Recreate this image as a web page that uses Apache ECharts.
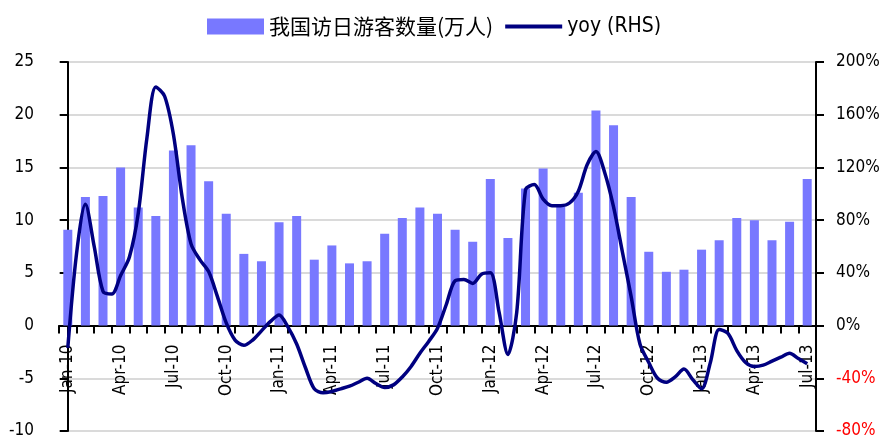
<!DOCTYPE html>
<html><head><meta charset="utf-8">
<script src="https://cdn.jsdelivr.net/npm/echarts@6/dist/echarts.min.js"></script>
<style>html,body{margin:0;padding:0;background:#fff}#c{width:885px;height:439px}</style>
</head><body><div id="c"></div>
<script>
var months = ['Jan-10','Feb-10','Mar-10','Apr-10','May-10','Jun-10','Jul-10','Aug-10','Sep-10','Oct-10','Nov-10','Dec-10',
  'Jan-11','Feb-11','Mar-11','Apr-11','May-11','Jun-11','Jul-11','Aug-11','Sep-11','Oct-11','Nov-11','Dec-11',
  'Jan-12','Feb-12','Mar-12','Apr-12','May-12','Jun-12','Jul-12','Aug-12','Sep-12','Oct-12','Nov-12','Dec-12',
  'Jan-13','Feb-13','Mar-13','Apr-13','May-13','Jun-13','Jul-13'];
var visitors = [9.1,12.2,12.3,15.0,11.2,10.4,16.6,17.1,13.7,10.6,6.8,6.1,
  9.8,10.4,6.25,7.6,5.9,6.1,8.7,10.2,11.2,10.6,9.1,7.95,
  13.9,8.3,13.0,14.9,11.3,12.6,20.4,19.0,12.2,7.0,5.1,5.3,
  7.2,8.1,10.2,10.0,8.1,9.85,13.9];
// yoy (%) read at half-month steps, starting Jan-10
var yoyHalfMonth = [-17,55,92,60,26,24,38,52,85,143,181,174,145,97,62,50,41,22,2,-11,-15,-11,-4,3,8,-1,-14,-32,-48,-51,
  -50,-48,-46,-43,-40,-44,-47,-45,-39,-31,-21,-12,-2,16,34,35,32,39,40,10,-22,10,103,107,96,91,91,93,102,122,
  132,116,90,56,22,-14,-28,-40,-43,-39,-33,-41,-48,-28,-3,-6,-19,-28,-31,-30,-27,-24,-21,-25,-29];
var leftTicks = {min:-10, max:25, step:5};
var rightTicks = {min:-80, max:200, step:40};

var narrow = "'Liberation Sans Narrow','DejaVu Sans Condensed','Arial Narrow','Liberation Sans',sans-serif";
var lineData = yoyHalfMonth.map(function(v,i){return [i/2, v];});
var gridTop = 62, gridBottom = 8, H = 439;
var plotH = H - gridTop - gridBottom;
var zeroOffset = plotH * (0 - leftTicks.min) / (leftTicks.max - leftTicks.min);
var chart = echarts.init(document.getElementById('c'), null, {renderer:'canvas'});
chart.setOption({
  animation:false,
  backgroundColor:'#fff',
  legend:{
    left:207, top:16, padding:0, itemWidth:57, itemHeight:16, itemGap:12,
    textStyle:{fontSize:21, color:'#000', fontFamily:"'Noto Sans CJK SC',sans-serif"},
    data:[
      {name:'我国访日游客数量(万人)', icon:'rect'},
      {name:'yoy (RHS)', icon:'path://M0,0 L57,0 L57,4 L0,4 Z', textStyle:{fontFamily:narrow, fontSize:21}}
    ]
  },
  grid:{left:59, right:69, top:gridTop, bottom:gridBottom, containLabel:false, outerBoundsMode:'none'},
  xAxis:[{
    type:'category', data:months, gridIndex:0, position:'bottom', offset:-zeroOffset,
    axisLine:{onZero:false, lineStyle:{color:'#000', width:2}},
    axisTick:{show:true, interval:0, length:8, lineStyle:{color:'#000', width:2}},
    axisLabel:{interval:2, rotate:90, margin:19, fontSize:17, color:'#000', fontFamily:narrow},
    splitLine:{show:false}
  },{
    type:'value', min:-0.5, max:42.5, show:false, gridIndex:0
  }],
  yAxis:[{
    type:'value', min:leftTicks.min, max:leftTicks.max, interval:leftTicks.step, position:'left',
    axisLine:{show:true, lineStyle:{color:'#000', width:2}},
    axisTick:{show:true, length:8, lineStyle:{color:'#000', width:2}},
    axisLabel:{margin:25, fontSize:17, color:'#000', fontFamily:narrow},
    splitLine:{show:true, lineStyle:{color:'#dadada', width:2}}
  },{
    type:'value', min:rightTicks.min, max:rightTicks.max, interval:rightTicks.step, position:'right',
    axisLine:{show:true, lineStyle:{color:'#000', width:2}},
    axisTick:{show:true, length:8, lineStyle:{color:'#000', width:2}},
    axisLabel:{margin:20, fontSize:17, fontFamily:narrow, formatter:'{value}%',
      color:function(v){ return (typeof v==='string'? parseFloat(v): v) < 0 ? '#ff0000' : '#000'; }},
    splitLine:{show:false}
  }],
  series:[{
    name:'我国访日游客数量(万人)', type:'bar', data:visitors, xAxisIndex:0, yAxisIndex:0,
    barWidth:9, itemStyle:{color:'#7878ff'}
  },{
    name:'yoy (RHS)', type:'line', data:lineData, xAxisIndex:1, yAxisIndex:1,
    smooth:0.3, symbol:'none', lineStyle:{color:'#000080', width:3.5}, itemStyle:{color:'#000080'}
  }]
});
</script></body></html>
